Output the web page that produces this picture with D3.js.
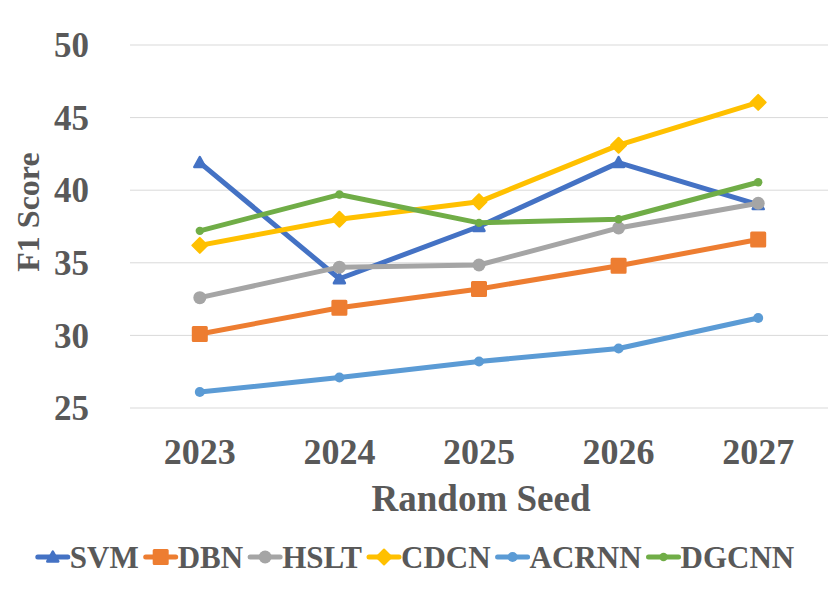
<!DOCTYPE html>
<html><head><meta charset="utf-8">
<script src="https://cdn.jsdelivr.net/npm/d3@7/dist/d3.min.js"></script>
<style>body{margin:0;background:#fff}svg{display:block}</style>
</head><body>
<svg id="c" width="832" height="605"></svg>
<script>
const years = ["2023","2024","2025","2026","2027"];
const seriesNames = ["SVM","DBN","HSLT","CDCN","ACRNN","DGCNN"];
const svm   = [41.9, 33.9, 37.5, 41.9, 39.0];
const dbn   = [30.1, 31.9, 33.2, 34.8, 36.6];
const hslt  = [32.6, 34.7, 34.85, 37.4, 39.1];
const cdcn  = [36.2, 38.0, 39.2, 43.1, 46.05];
const acrnn = [26.1, 27.1, 28.2, 29.1, 31.2];
const dgcnn = [37.2, 39.7, 37.75, 38.0, 40.55];
const yTicks = [25, 30, 35, 40, 45, 50];
const colors = ["#4472C4","#ED7D31","#A5A5A5","#FFC000","#5B9BD5","#70AD47"];
const markers = ["triangle","square","circle","diamond","circleM","circleS"];
const values = [svm, dbn, hslt, cdcn, acrnn, dgcnn];

const svg = d3.select("#c");
const font = "'Liberation Serif','Times New Roman',serif";
const txt = "#595959";
const pLeft = 130, pRight = 828, pTop = 45, pBottom = 408;

const x = d3.scaleBand().domain(years).range([pLeft, pRight]);
const y = d3.scaleLinear().domain([25, 50]).range([pBottom, pTop]);
const cx = d => x(d) + x.bandwidth() / 2;

// grid
svg.append("g").selectAll("line").data(yTicks).join("line")
  .attr("x1", pLeft).attr("x2", pRight)
  .attr("y1", d => y(d)).attr("y2", d => y(d))
  .attr("stroke", "#D9D9D9").attr("stroke-width", 1);

// y ticks
svg.append("g").selectAll("text").data(yTicks).join("text")
  .attr("x", 89).attr("y", d => y(d)).attr("dy", "0.35em")
  .attr("text-anchor", "end")
  .attr("font-family", font).attr("font-weight", "bold").attr("font-size", 35)
  .attr("fill", txt).text(d => d);

// x ticks
svg.append("g").selectAll("text").data(years).join("text")
  .attr("x", d => cx(d)).attr("y", 464)
  .attr("text-anchor", "middle")
  .attr("font-family", font).attr("font-weight", "bold").attr("font-size", 36)
  .attr("fill", txt).text(d => d);

// axis titles
svg.append("text").attr("x", 481).attr("y", 511).attr("text-anchor", "middle")
  .attr("font-family", font).attr("font-weight", "bold").attr("font-size", 37)
  .attr("fill", txt).text("Random Seed");
svg.append("text").attr("transform", "translate(39,212) rotate(-90)")
  .attr("text-anchor", "middle")
  .attr("font-family", font).attr("font-weight", "bold").attr("font-size", 32)
  .attr("fill", txt).text("F1 Score");

function drawMarker(g, type, color, px, py, scale) {
  scale = scale || 1;
  if (type === "square") {
    const s = 13 * scale;
    g.append("rect").attr("x", px - s/2).attr("y", py - s/2).attr("width", s).attr("height", s)
      .attr("fill", color).attr("stroke", color).attr("stroke-width", 3 * scale).attr("stroke-linejoin", "round");
  } else if (type === "circle") {
    g.append("circle").attr("cx", px).attr("cy", py).attr("r", 6.5 * scale).attr("fill", color);
  } else if (type === "circleM") {
    g.append("circle").attr("cx", px).attr("cy", py).attr("r", 5 * scale).attr("fill", color);
  } else if (type === "circleS") {
    g.append("circle").attr("cx", px).attr("cy", py).attr("r", 4.2 * scale).attr("fill", color);
  } else if (type === "diamond") {
    const s = 7.5 * scale;
    g.append("path").attr("d", `M${px},${py-s}L${px+s},${py}L${px},${py+s}L${px-s},${py}Z`)
      .attr("fill", color).attr("stroke", color).attr("stroke-width", 2 * scale).attr("stroke-linejoin", "round");
  } else if (type === "triangle") {
    const s = 5.5 * scale;
    g.append("path").attr("d", `M${px},${py-s}L${px+s},${py+s*0.8}L${px-s},${py+s*0.8}Z`)
      .attr("fill", color).attr("stroke", color).attr("stroke-width", 2.5 * scale).attr("stroke-linejoin", "round");
  }
}

const line = d3.line().x((d, i) => cx(years[i])).y(d => y(d));
values.forEach((vals, si) => {
  const g = svg.append("g");
  g.append("path").datum(vals).attr("d", line).attr("fill", "none")
    .attr("stroke", colors[si]).attr("stroke-width", 5).attr("stroke-linejoin", "round").attr("stroke-linecap", "round");
  vals.forEach((v, i) => drawMarker(g, markers[si], colors[si], cx(years[i]), y(v)));
});

// legend
const lg = svg.append("g");
const lineLen = 30, gapAfterLine = 2, gapAfterText = 7, legY = 557, legFont = 31;
const tmp = lg.append("text").attr("font-family", font).attr("font-weight", "bold").attr("font-size", legFont);
const widths = seriesNames.map(n => { tmp.text(n); return tmp.node().getComputedTextLength(); });
tmp.remove();
const total = d3.sum(widths) + seriesNames.length * (lineLen + gapAfterLine) + (seriesNames.length - 1) * gapAfterText;
let lx = 416 - total / 2;
seriesNames.forEach((n, i) => {
  lg.append("line").attr("x1", lx).attr("x2", lx + lineLen).attr("y1", legY).attr("y2", legY)
    .attr("stroke", colors[i]).attr("stroke-width", 5).attr("stroke-linecap", "round");
  drawMarker(lg, markers[i], colors[i], lx + lineLen / 2, legY, 1);
  lg.append("text").attr("x", lx + lineLen + gapAfterLine).attr("y", legY).attr("dy", "0.35em")
    .attr("font-family", font).attr("font-weight", "bold").attr("font-size", legFont)
    .attr("fill", txt).text(n);
  lx += lineLen + gapAfterLine + widths[i] + gapAfterText;
});
</script>
</body></html>
